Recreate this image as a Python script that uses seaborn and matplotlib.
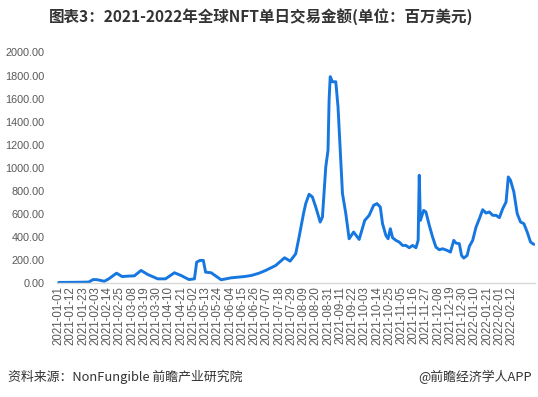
"""
plot.py
=======

2021-2022 global NFT daily trading volume (million USD), redrawn with seaborn.
Values are read off the reference picture at irregular dates.
"""

import matplotlib
matplotlib.use("Agg")

import matplotlib.pyplot as plt
import pandas as pd
import seaborn as sns

# --------------------------------------------------------------------------- #
# Data
# --------------------------------------------------------------------------- #
DATES = [
    "2021-01-01", "2021-01-15", "2021-01-28", "2021-02-01", "2021-02-05",
    "2021-02-11", "2021-02-15", "2021-02-22", "2021-02-27", "2021-03-05",
    "2021-03-10", "2021-03-16", "2021-03-22", "2021-03-31", "2021-04-07",
    "2021-04-15", "2021-04-21", "2021-04-28", "2021-05-03", "2021-05-05",
    "2021-05-08", "2021-05-11", "2021-05-13", "2021-05-18", "2021-05-27",
    "2021-06-05", "2021-06-17", "2021-06-23", "2021-06-30", "2021-07-06",
    "2021-07-15", "2021-07-23", "2021-07-28", "2021-08-02", "2021-08-05",
    "2021-08-09", "2021-08-11", "2021-08-14", "2021-08-17", "2021-08-20",
    "2021-08-24", "2021-08-26", "2021-08-29", "2021-08-31", "2021-09-01",
    "2021-09-02", "2021-09-04", "2021-09-07", "2021-09-09", "2021-09-13",
    "2021-09-16", "2021-09-19", "2021-09-23", "2021-09-28", "2021-10-03",
    "2021-10-07", "2021-10-11", "2021-10-14", "2021-10-17", "2021-10-19",
    "2021-10-22", "2021-10-24", "2021-10-26", "2021-10-28", "2021-10-31",
    "2021-11-03", "2021-11-06", "2021-11-09", "2021-11-12", "2021-11-15",
    "2021-11-18", "2021-11-20", "2021-11-21", "2021-11-22", "2021-11-25",
    "2021-11-27", "2021-11-30", "2021-12-03", "2021-12-06", "2021-12-09",
    "2021-12-12", "2021-12-16", "2021-12-19", "2021-12-22", "2021-12-24",
    "2021-12-27", "2021-12-29", "2021-12-31", "2022-01-03", "2022-01-05",
    "2022-01-08", "2022-01-11", "2022-01-14", "2022-01-17", "2022-01-20",
    "2022-01-23", "2022-01-26", "2022-01-29", "2022-02-01", "2022-02-04",
    "2022-02-07", "2022-02-09", "2022-02-11", "2022-02-14", "2022-02-17",
    "2022-02-20", "2022-02-23", "2022-02-26", "2022-03-01", "2022-03-04",
]
VOLUME = [
    5, 6, 8, 30, 28,
    15, 36, 85, 56, 60,
    62, 109, 74, 36, 36,
    89, 65, 30, 36, 181,
    196, 196, 94, 89, 28,
    45, 56, 65, 85, 109,
    152, 219, 190, 254, 398,
    602, 689, 770, 746, 659,
    529, 572, 1007, 1150, 1590,
    1790, 1746, 1746, 1529, 776,
    602, 384, 442, 378, 543,
    587, 674, 689, 659, 515,
    413, 384, 471, 393, 370,
    355, 326, 326, 306, 326,
    306, 370, 935, 543, 630,
    616, 500, 398, 311, 289,
    297, 283, 268, 370, 346,
    341, 239, 216, 239, 317,
    370, 485, 558, 636, 607,
    616, 587, 587, 567, 645,
    703, 920, 891, 790, 602,
    529, 515, 442, 355, 335,
]
Y_TICKS = [0, 200, 400, 600, 800, 1000, 1200, 1400, 1600, 1800, 2000]
TICK_START, TICK_END, TICK_STEP = "2021-01-01", "2022-02-12", "11D"

TITLE = "图表3：2021-2022年全球NFT单日交易金额(单位：百万美元)"
SOURCE = "资料来源：NonFungible 前瞻产业研究院"
CREDIT = "@前瞻经济学人APP"

LINE_COLOR = "#1677e0"
TEXT_GREY = "#595959"

# --------------------------------------------------------------------------- #
# Style
# --------------------------------------------------------------------------- #
sns.set_theme(style="white")
plt.rcParams["font.family"] = ["Liberation Sans", "Noto Sans CJK SC", "DejaVu Sans"]

W, H = 538, 397
fig = plt.figure(figsize=(W / 100, H / 100), dpi=100)
ax = fig.add_axes([57 / W, 1 - 283 / H, (535 - 57) / W, (283 - 52.5) / H])

df = pd.DataFrame({"date": pd.to_datetime(DATES), "volume": VOLUME})
sns.lineplot(data=df, x="date", y="volume", ax=ax, color=LINE_COLOR,
             linewidth=2.1)

# axes
ax.set_ylim(0, 2000)
ax.set_xlim(pd.Timestamp("2021-01-01") - pd.Timedelta(days=1.5),
            pd.Timestamp("2022-03-04") + pd.Timedelta(days=1))
ax.set_yticks(Y_TICKS)
ax.set_yticklabels([f"{v:.2f}" for v in Y_TICKS], fontsize=7.8, color=TEXT_GREY)
ticks = pd.date_range(TICK_START, TICK_END, freq=TICK_STEP)
ax.set_xticks(ticks)
ax.set_xticklabels([d.strftime("%Y-%m-%d") for d in ticks], rotation=90,
                   fontsize=8.3, color=TEXT_GREY)
ax.tick_params(axis="y", length=0, pad=9)
ax.tick_params(axis="x", length=0, pad=2)
ax.set_xlabel("")
ax.set_ylabel("")
ax.grid(False)
for side in ("top", "right", "left"):
    ax.spines[side].set_visible(False)
ax.spines["bottom"].set_color("#d9d9d9")
ax.spines["bottom"].set_linewidth(1.0)

# texts
fig.text(261 / W, 1 - 18 / H, TITLE, ha="center", va="center", fontsize=11.2,
         fontweight="bold", color="#333333",
         family=["Noto Sans CJK SC", "DejaVu Sans"])
fig.text(8 / W, 1 - 377 / H, SOURCE, ha="left", va="center", fontsize=9.3,
         color="#333333", family=["Noto Sans CJK SC", "DejaVu Sans"])
fig.text(532 / W, 1 - 377 / H, CREDIT, ha="right", va="center", fontsize=9.3,
         color="#333333", family=["Noto Sans CJK SC", "DejaVu Sans"])

fig.savefig("out.png", dpi=100)
